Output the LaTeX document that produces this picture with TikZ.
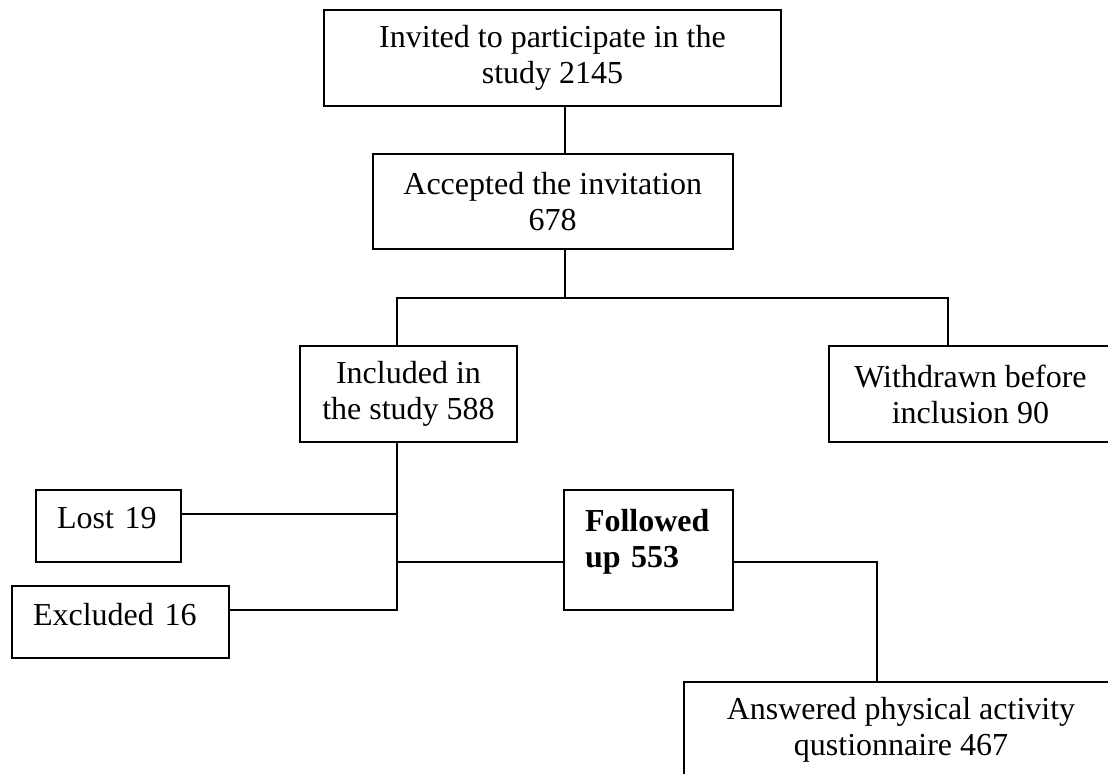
\documentclass[tikz,border=0pt]{standalone}
\usepackage{fontspec}
\setmainfont{Liberation Serif}
\usepackage{tikz}
\tikzset{
blk/.style 2 args={draw,line width=1.5pt,minimum width=#1*0.75pt,minimum height=#2*0.75pt,inner sep=0pt,align=center,font=\fontsize{24}{27}\selectfont},
lbl/.style={align=left,text width=#1},
ln/.style={line width=1.5pt}}

\begin{document}
\begin{tikzpicture}[x=0.75pt,y=-0.75pt]
%рамка
\useasboundingbox (0,0) rectangle (1108,774);
\clip (0,0) rectangle (1108,774);
%блоки
\node [blk={457}{96}] (inv) at (552.5,58) {Invited to participate in the\\study 2145};
\node [blk={360}{95}] (acc) at (552.7,201.5) {Accepted the invitation\\678};
\node [blk={217}{96}] (inc) at (408.5,394) {Included in\\the study 588};
\node [blk={283}{96.5}] (wd) at (970.5,394) {Withdrawn before\\inclusion 90};
\node [blk={145}{72},lbl=77.25pt,text depth=12pt] (lost) at (108.5,526) {Lost 19};
\node [blk={217}{72},lbl=131.25pt,text depth=12pt] (excl) at (120.5,622) {Excluded 16};
\node [blk={169}{120},lbl=95.25pt,text depth=44pt,font=\fontsize{24}{27}\selectfont\bfseries] (fol) at (648.5,550) {Followed\\up 553};
\node [blk={434}{96}] (ans) at (901,730) {Answered physical activity\\qustionnaire 467};
%узлы линий
\coordinate (j1) at (565,298);
\coordinate (sL) at (397,298);
\coordinate (sR) at (948,298);
\coordinate (tLost) at (397,514);
\coordinate (tFol) at (397,562);
\coordinate (tEx) at (397,610);
\coordinate (kAns) at (877,562);
%линии
\draw [ln] (inv.south -| j1) -- (acc.north -| j1);
\draw [ln] (acc.south -| j1) -- (j1);
\draw [ln] (inc.north -| sL) -- (sL) -- (sR) -- (wd.north -| sR);
\draw [ln] (inc.south -| tEx) -- (tEx) -- (excl.east |- tEx);
\draw [ln] (tLost) -- (lost.east |- tLost);
\draw [ln] (tFol) -- (fol.west |- tFol);
\draw [ln] (fol.east |- kAns) -- (kAns) -- (ans.north -| kAns);
\end{tikzpicture}
\end{document}
